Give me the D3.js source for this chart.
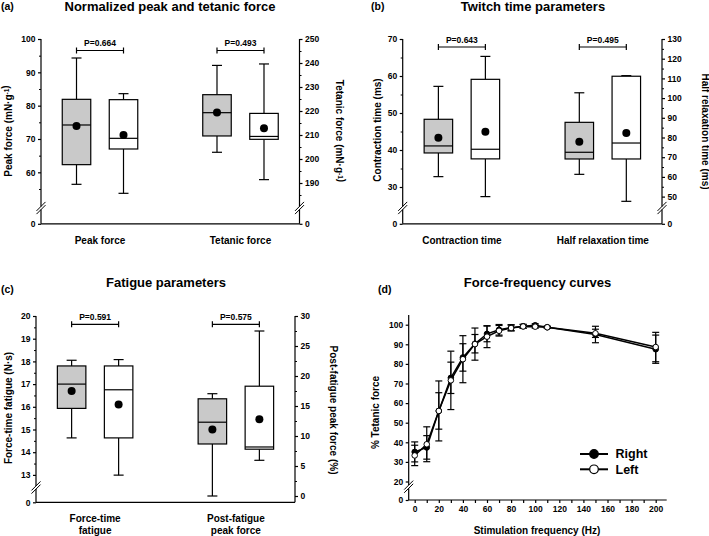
<!DOCTYPE html>
<html><head><meta charset="utf-8">
<script src="https://cdn.jsdelivr.net/npm/d3@7"></script>
<style>
body{margin:0;background:#fff;}
svg{display:block;font-family:"Liberation Sans",Arial,sans-serif;font-weight:bold;}
</style></head><body>
<svg id="chart" width="709" height="536"></svg>
<script>
// ---------------- DATA ----------------
// box stats order: [whisker min, Q1, median, Q3, whisker max, mean]
const sides = ["Right", "Left"];

// Panel (a)
const panelACategories = ["Peak force", "Tetanic force"];
const peakForceRight = [56.4, 62.3, 74.2, 81.9, 94.3, 73.9];
const peakForceLeft = [53.7, 67.0, 70.2, 81.8, 83.6, 71.2];
const tetanicForceRight = [202.8, 209.6, 219.3, 226.8, 239.0, 219.4];
const tetanicForceLeft = [191.4, 208.2, 209.4, 219.0, 239.6, 212.8];
const panelAPValues = ["P=0.664", "P=0.493"];
const panelALeftTicks = [0, 60, 70, 80, 90, 100];
const panelALeftMinor = [55, 65, 75, 85, 95];
const panelARightTicks = [0, 190, 200, 210, 220, 230, 240, 250];
const panelARightMinor = [185, 195, 205, 215, 225, 235, 245];

// Panel (b)
const panelBCategories = ["Contraction time", "Half relaxation time"];
const contractionTimeRight = [32.8, 39.2, 41.1, 48.3, 57.2, 43.3];
const contractionTimeLeft = [27.4, 37.6, 40.2, 59.1, 65.3, 44.9];
const halfRelaxationRight = [61.3, 69.1, 72.5, 87.7, 102.7, 77.9];
const halfRelaxationLeft = [47.6, 69.1, 77.2, 111.1, 111.4, 82.3];
const panelBPValues = ["P=0.643", "P=0.495"];
const panelBLeftTicks = [0, 30, 40, 50, 60, 70];
const panelBLeftMinor = [35, 45, 55, 65];
const panelBRightTicks = [0, 50, 60, 70, 80, 90, 100, 110, 120, 130];
const panelBRightMinor = [55, 65, 75, 85, 95, 105, 115, 125];

// Panel (c)
const panelCCategories = ["Force-time|fatigue", "Post-fatigue|peak force"];
const forceTimeFatigueRight = [14.63, 15.93, 17.0, 17.8, 18.05, 16.7];
const forceTimeFatigueLeft = [12.99, 14.63, 16.75, 17.8, 18.08, 16.1];
const postFatigueRight = [0.0, 8.67, 12.3, 16.2, 17.05, 11.1];
const postFatigueLeft = [5.95, 7.8, 8.17, 18.3, 27.5, 12.8];
const panelCPValues = ["P=0.591", "P=0.575"];
const panelCLeftTicks = [0, 13, 14, 15, 16, 17, 18, 19, 20];
const panelCLeftMinor = [13.5, 14.5, 15.5, 16.5, 17.5, 18.5, 19.5];
const panelCRightTicks = [0, 5, 10, 15, 20, 25, 30];
const panelCRightMinor = [2.5, 7.5, 12.5, 17.5, 22.5, 27.5];

// Panel (d)
const frequencies = [0, 10, 20, 30, 40, 50, 60, 70, 80, 90, 100, 110, 150, 200];
const rightForce = [35.1, 37.4, 56.0, 72.9, 83.3, 90.3, 95.3, 97.4, 98.5, 99.2, 99.7, 98.7, 95.0, 87.5];
const rightSD = [5.1, 6.0, 9.3, 8.0, 7.0, 4.7, 4.0, 2.7, 1.5, 1.0, 0.8, 0.5, 4.2, 7.2];
const leftForce = [33.3, 39.0, 56.0, 71.6, 82.4, 90.1, 93.9, 96.9, 98.3, 99.1, 99.0, 98.7, 95.6, 88.6];
const leftSD = [5.2, 8.9, 15.3, 14.9, 12.0, 8.2, 5.6, 2.7, 1.5, 1.0, 0.8, 0.5, 2.1, 7.5];
const panelDYTicks = [0, 20, 30, 40, 50, 60, 70, 80, 90, 100];
const panelDXTicks = d3.range(0, 201, 10);

// ---------------- DRAWING ----------------
const svg = d3.select("#chart");
const GRAY = "#c9c9c9";
const SW = 1.2;

function brokenScale(vBreak, vTop, yBottom, yBreak, yTop) {
  return d3.scaleLinear().domain([0, vBreak, vTop]).range([yBottom, yBreak, yTop]);
}
function breakMark(g, x, yb) {
  [-1.6, 1.6].forEach(o => {
    g.append("line").attr("x1", x - 4.5).attr("y1", yb + o + 4.5)
      .attr("x2", x + 4.5).attr("y2", yb + o - 4.5)
      .attr("stroke", "#000").attr("stroke-width", 1);
  });
}
function vAxis(g, scale, x, side, ticks, minor, yTop, yBottom, yBreak) {
  const mk = side === "left" ? d3.axisLeft : d3.axisRight;
  const ag = g.append("g").attr("transform", `translate(${x},0)`)
    .call(mk(scale).tickValues(ticks).tickSize(3).tickPadding(2.5));
  ag.select(".domain").remove();
  ag.selectAll("text").attr("font-size", 8.5).attr("font-family", null).attr("font-weight", "bold");
  ag.selectAll("line").attr("stroke-width", SW);
  if (minor && minor.length) {
    const mg = g.append("g").attr("transform", `translate(${x},0)`)
      .call(mk(scale).tickValues(minor).tickSize(2).tickFormat(""));
    mg.select(".domain").remove();
    mg.selectAll("line").attr("stroke-width", 1);
  }
  if (yBreak != null) {
    g.append("line").attr("x1", x).attr("x2", x).attr("y1", yTop).attr("y2", yBreak - 1.6)
      .attr("stroke", "#000").attr("stroke-width", SW);
    g.append("line").attr("x1", x).attr("x2", x).attr("y1", yBreak + 1.6).attr("y2", yBottom)
      .attr("stroke", "#000").attr("stroke-width", SW);
    breakMark(g, x, yBreak);
  } else {
    g.append("line").attr("x1", x).attr("x2", x).attr("y1", yTop).attr("y2", yBottom)
      .attr("stroke", "#000").attr("stroke-width", SW);
  }
}
function drawBox(g, cx, s, scale, fill) {
  const w = 28.5, cap = 5;
  const [mn, q1, md, q3, mx, mean] = s;
  g.append("line").attr("x1", cx).attr("x2", cx).attr("y1", scale(q3)).attr("y2", scale(mx)).attr("stroke", "#000").attr("stroke-width", SW);
  g.append("line").attr("x1", cx).attr("x2", cx).attr("y1", scale(q1)).attr("y2", scale(mn)).attr("stroke", "#000").attr("stroke-width", SW);
  g.append("line").attr("x1", cx - cap).attr("x2", cx + cap).attr("y1", scale(mx)).attr("y2", scale(mx)).attr("stroke", "#000").attr("stroke-width", SW);
  g.append("line").attr("x1", cx - cap).attr("x2", cx + cap).attr("y1", scale(mn)).attr("y2", scale(mn)).attr("stroke", "#000").attr("stroke-width", SW);
  g.append("rect").attr("x", cx - w / 2).attr("width", w).attr("y", scale(q3)).attr("height", scale(q1) - scale(q3))
    .attr("fill", fill).attr("stroke", "#000").attr("stroke-width", SW);
  g.append("line").attr("x1", cx - w / 2).attr("x2", cx + w / 2).attr("y1", scale(md)).attr("y2", scale(md)).attr("stroke", "#000").attr("stroke-width", SW);
  g.append("circle").attr("cx", cx).attr("cy", scale(mean)).attr("r", 4).attr("fill", "#000");
}
function bracket(g, x1, x2, y, label) {
  g.append("line").attr("x1", x1).attr("x2", x2).attr("y1", y).attr("y2", y).attr("stroke", "#000").attr("stroke-width", SW);
  [x1, x2].forEach(x => g.append("line").attr("x1", x).attr("x2", x).attr("y1", y - 3).attr("y2", y + 3).attr("stroke", "#000").attr("stroke-width", SW));
  g.append("text").attr("x", (x1 + x2) / 2).attr("y", y - 4.5).attr("text-anchor", "middle").attr("font-size", 8.5).text(label);
}
function axisTitle(g, x, y, rot, parts) {
  const t = g.append("text").attr("transform", `translate(${x},${y}) rotate(${rot})`)
    .attr("text-anchor", "middle").attr("dy", "0.35em").attr("font-size", 10);
  parts.forEach(p => {
    if (p.sup) {
      t.append("tspan").attr("dy", "-0.45em").attr("font-size", 6.5).text(p.sup);
      t.append("tspan").attr("dy", "0.45em").text("");
    } else t.append("tspan").text(p.t);
  });
}
function title(x, y, txt) {
  svg.append("text").attr("x", x).attr("y", y).attr("text-anchor", "middle").attr("font-size", 13).text(txt);
}
function letter(x, y, txt) {
  svg.append("text").attr("x", x).attr("y", y).attr("font-size", 10.5).text(txt);
}

function boxPanel(cfg) {
  const g = svg.append("g");
  const xc = d3.scalePoint().domain(cfg.categories).range([cfg.xL, cfg.xR]).padding(0.42);
  const off = d3.scalePoint().domain(sides).range([-23.5, 23.5]);
  vAxis(g, cfg.leftScale, cfg.xL, "left", cfg.leftTicks, cfg.leftMinor, cfg.yTop, cfg.yBottom, cfg.leftBreak);
  vAxis(g, cfg.rightScale, cfg.xR, "right", cfg.rightTicks, cfg.rightMinor, cfg.yTop, cfg.yBottom, cfg.rightBreak);
  g.append("line").attr("x1", cfg.xL).attr("x2", cfg.xR).attr("y1", cfg.yBottom).attr("y2", cfg.yBottom).attr("stroke", "#000").attr("stroke-width", SW);
  cfg.categories.forEach((c, i) => {
    const sc = i === 0 ? cfg.leftScale : cfg.rightScale;
    drawBox(g, xc(c) + off("Right"), cfg.data[i][0], sc, GRAY);
    drawBox(g, xc(c) + off("Left"), cfg.data[i][1], sc, "#fff");
    bracket(g, xc(c) + off("Right"), xc(c) + off("Left"), cfg.bracketY, cfg.pvals[i]);
    const lines = c.split("|");
    lines.forEach((ln, k) => {
      g.append("text").attr("x", xc(c)).attr("y", cfg.labelY + k * 11.7).attr("dy", "0.35em")
        .attr("text-anchor", "middle").attr("font-size", 10).text(ln);
    });
  });
}

// Panel (a)
boxPanel({
  categories: panelACategories,
  data: [[peakForceRight, peakForceLeft], [tetanicForceRight, tetanicForceLeft]],
  pvals: panelAPValues,
  xL: 41, xR: 299.5, yTop: 39, yBottom: 223.8,
  leftScale: brokenScale(100 - 169 / 3.333, 100, 223.8, 208, 39), leftBreak: 208,
  rightScale: brokenScale(250 - 169 / 2.4, 250, 223.8, 208, 39), rightBreak: 208,
  leftTicks: panelALeftTicks, leftMinor: panelALeftMinor,
  rightTicks: panelARightTicks, rightMinor: panelARightMinor,
  bracketY: 50.5, labelY: 240.5
});
// Panel (b)
boxPanel({
  categories: panelBCategories,
  data: [[contractionTimeRight, contractionTimeLeft], [halfRelaxationRight, halfRelaxationLeft]],
  pvals: panelBPValues,
  xL: 402.7, xR: 662, yTop: 39, yBottom: 223.8,
  leftScale: brokenScale(70 - 169 / 3.7, 70, 223.8, 208, 39), leftBreak: 208,
  rightScale: brokenScale(130 - 169 / 1.97, 130, 223.8, 208, 39), rightBreak: 208,
  leftTicks: panelBLeftTicks, leftMinor: panelBLeftMinor,
  rightTicks: panelBRightTicks, rightMinor: panelBRightMinor,
  bracketY: 47, labelY: 240.5
});
// Panel (c)
boxPanel({
  categories: panelCCategories,
  data: [[forceTimeFatigueRight, forceTimeFatigueLeft], [postFatigueRight, postFatigueLeft]],
  pvals: panelCPValues,
  xL: 36, xR: 295, yTop: 316, yBottom: 502.3,
  leftScale: brokenScale(20 - 171.5 / 22.7, 20, 502.3, 487.5, 316), leftBreak: 487.5,
  rightScale: d3.scaleLinear().domain([0, 30]).range([496, 316]), rightBreak: null,
  leftTicks: panelCLeftTicks, leftMinor: panelCLeftMinor,
  rightTicks: panelCRightTicks, rightMinor: panelCRightMinor,
  bracketY: 324.3, labelY: 518.3
});

// Panel (d)
(function () {
  const g = svg.append("g");
  const x = d3.scaleLinear().domain([0, 200]).range([414.7, 655.7]);
  const y = brokenScale(100 - 162 / 1.96, 100, 500, 486.7, 324.7);
  vAxis(g, y, 408.7, "left", panelDYTicks, [], 315, 500, 486.7);
  const xa = g.append("g").attr("transform", "translate(0,500)")
    .call(d3.axisBottom(x).tickValues(panelDXTicks).tickSize(3).tickPadding(3).tickFormat(d => d % 20 === 0 ? d : ""));
  xa.select(".domain").remove();
  xa.selectAll("text").attr("font-size", 8.5).attr("font-family", null).attr("font-weight", "bold");
  xa.selectAll("line").attr("stroke-width", SW);
  g.append("line").attr("x1", 408.7).attr("x2", 666.7).attr("y1", 500).attr("y2", 500).attr("stroke", "#000").attr("stroke-width", SW);

  const series = [
    { vals: rightForce, sd: rightSD, fill: "#000" },
    { vals: leftForce, sd: leftSD, fill: "#fff" }
  ];
  const line = d3.line().x((d, i) => x(frequencies[i])).y(d => y(d));
  series.forEach(s => {
    g.append("path").attr("d", line(s.vals)).attr("fill", "none").attr("stroke", "#000").attr("stroke-width", 1.5);
  });
  series.forEach(s => {
    s.vals.forEach((v, i) => {
      const cx = x(frequencies[i]);
      const y1 = y(v + s.sd[i]), y2 = y(v - s.sd[i]);
      g.append("line").attr("x1", cx).attr("x2", cx).attr("y1", y1).attr("y2", y2).attr("stroke", "#000").attr("stroke-width", 1.2);
      [y1, y2].forEach(yy => g.append("line").attr("x1", cx - 3.5).attr("x2", cx + 3.5).attr("y1", yy).attr("y2", yy).attr("stroke", "#000").attr("stroke-width", 1.2));
    });
  });
  series.forEach(s => {
    g.selectAll(null).data(s.vals).enter().append("circle")
      .attr("cx", (d, i) => x(frequencies[i])).attr("cy", d => y(d)).attr("r", 2.8)
      .attr("fill", s.fill).attr("stroke", "#000").attr("stroke-width", 1);
  });
  // legend
  sides.forEach((name, k) => {
    const ly = 454 + k * 15.3;
    g.append("line").attr("x1", 580).attr("x2", 608).attr("y1", ly).attr("y2", ly).attr("stroke", "#000").attr("stroke-width", 2);
    g.append("circle").attr("cx", 594).attr("cy", ly).attr("r", 4.3).attr("fill", series[k].fill).attr("stroke", "#000").attr("stroke-width", 1.2);
    g.append("text").attr("x", 615.5).attr("y", ly).attr("dy", "0.35em").attr("font-size", 12.5).text(name);
  });
  axisTitle(g, 375, 412.5, -90, [{ t: "% Tetanic force" }]);
  g.append("text").attr("x", 537).attr("y", 530).attr("dy", "0.35em").attr("text-anchor", "middle").attr("font-size", 10).text("Stimulation frequency (Hz)");
})();

// Axis titles
axisTitle(svg, 8, 131, -90, [{ t: "Peak force (mN·g" }, { sup: "-1" }, { t: ")" }]);
axisTitle(svg, 339, 131, 90, [{ t: "Tetanic force (mN·g" }, { sup: "-1" }, { t: ")" }]);
axisTitle(svg, 377.5, 130, -90, [{ t: "Contraction time (ms)" }]);
axisTitle(svg, 705, 131.5, 90, [{ t: "Half relaxation time (ms)" }]);
axisTitle(svg, 8, 408, -90, [{ t: "Force-time fatigue (N·s)" }]);
axisTitle(svg, 333, 410, 90, [{ t: "Post-fatigue peak force (%)" }]);

// Titles and panel letters
title(170, 10.5, "Normalized peak and tetanic force");
title(533, 10.5, "Twitch time parameters");
title(166, 287, "Fatigue parameters");
title(537.5, 287, "Force-frequency curves");
letter(1, 9.5, "(a)");
letter(371, 9.5, "(b)");
letter(1, 293, "(c)");
letter(378, 293, "(d)");
</script>
</body></html>
